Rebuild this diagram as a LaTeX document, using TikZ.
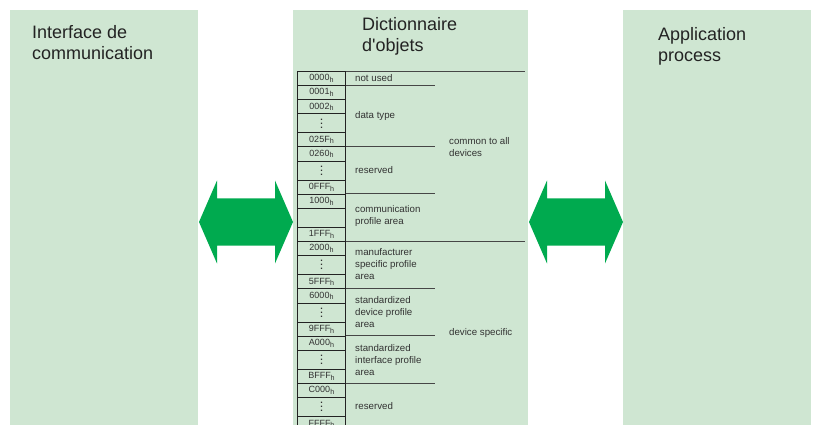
\documentclass[tikz,border=0pt]{standalone}
\usepackage{fontspec}
\setmainfont{Liberation Sans}
\newfontfamily\plainquotes{Liberation Sans}[Ligatures=TeXOff]
\usetikzlibrary{calc}

\definecolor{panelgreen}{RGB}{207,230,210}
\definecolor{arrowgreen}{RGB}{0,170,79}
\definecolor{rulecol}{RGB}{35,35,35}
\definecolor{sepcol}{RGB}{70,70,70}
\definecolor{labelgray}{RGB}{50,50,50}
\definecolor{titlegray}{RGB}{35,35,35}

% three stacked bold dots for elided address ranges
\newcommand\rangedots{\vbox{\baselineskip4pt\lineskiplimit0pt
  \hbox{\bfseries .}\hbox{\bfseries .}\hbox{\bfseries .}}}
% hexadecimal index with its "h" suffix
\newcommand\hexidx[1]{#1\raisebox{-1.6pt}{\fontsize{7.2}{7.2}\selectfont h}}

\begin{document}
\begin{tikzpicture}[x=1pt,y=-1pt,
  panel/.style={fill=panelgreen, draw=none, anchor=north west, inner sep=0,
    minimum width=#1, minimum height=415},
  title/.style={font=\fontsize{18}{21}\selectfont, text=titlegray,
    align=left, inner sep=0},
  cell/.style={draw=rulecol, line width=1pt, minimum width=48,
    minimum height=#1, anchor=north west, inner sep=0,
    font=\fontsize{9}{10}\selectfont, text=labelgray},
  addr/.style={cell=14.1},
  gap/.style={cell=19.1},
  desc/.style={anchor=west, inner sep=0, align=left, text=labelgray,
    font=\fontsize{9.7}{12.2}\selectfont},
  sep/.style={draw=sepcol, line width=0.7pt},
]
\useasboundingbox (0,0) rectangle (817,425);
\clip (0,0) rectangle (817,425);

% three panels
\node[panel=188] (iface) at (10,10) {};
\node[panel=235] (dict)  at (293,10) {};
\node[panel=188] (app)   at (623,10) {};

% panel titles
\node[title, anchor=north west] (tiface) at (32,25) {Interface de\\communication};
\node[title, anchor=north west] (tdict)  at (362,17) {Dictionnaire\\d{\plainquotes'}objets};
\node[title, anchor=north west] (tapp)   at (658,27) {Application\\process};

% double-headed arrows between the panels
\coordinate (al) at (199,222);
\coordinate (ar) at (293,222);
\coordinate (bl) at (529,222);
\coordinate (br) at (623,222);
\foreach \p/\q in {al/ar, bl/br}{
  \fill[arrowgreen] (\p) -- ++(18,-41.5) -- ++(0,18)
    -- ($(\q)+(-18,-23.5)$) -- ++(0,-18) -- (\q) -- ++(-18,41.5)
    -- ++(0,-18) -- ($(\p)+(18,23.5)$) -- ++(0,18) -- cycle;
}

% index column of the object dictionary
\node[addr] (r1)  at (297,71)    {\hexidx{0000}};
\node[addr] (r2)  at (297,85.1)  {\hexidx{0001}};
\node[addr] (r3)  at (297,99.2)  {\hexidx{0002}};
\node[gap]  (r4)  at (297,113.3) {\rangedots};
\node[addr] (r5)  at (297,132.4) {\hexidx{025F}};
\node[addr] (r6)  at (297,146.5) {\hexidx{0260}};
\node[gap]  (r7)  at (297,160.6) {\rangedots};
\node[addr] (r8)  at (297,179.7) {\hexidx{0FFF}};
\node[addr] (r9)  at (297,193.8) {\hexidx{1000}};
\node[gap]  (r10) at (297,207.9) {};
\node[addr] (r11) at (297,227.0) {\hexidx{1FFF}};
\node[addr] (r12) at (297,241.1) {\hexidx{2000}};
\node[gap]  (r13) at (297,255.2) {\rangedots};
\node[addr] (r14) at (297,274.3) {\hexidx{5FFF}};
\node[addr] (r15) at (297,288.4) {\hexidx{6000}};
\node[gap]  (r16) at (297,302.5) {\rangedots};
\node[addr] (r17) at (297,321.6) {\hexidx{9FFF}};
\node[addr] (r18) at (297,335.7) {\hexidx{A000}};
\node[gap]  (r19) at (297,349.8) {\rangedots};
\node[addr] (r20) at (297,368.9) {\hexidx{BFFF}};
\node[addr] (r21) at (297,383.0) {\hexidx{C000}};
\node[gap]  (r22) at (297,397.1) {\rangedots};
\node[addr] (r23) at (297,416.2) {\hexidx{FFFF}};

% range separators: long ones bound the two main groups
\draw[sep] (r1.north east)  -- ++(179,0);
\draw[sep] (r2.north east)  -- ++(89,0);
\draw[sep] (r6.north east)  -- ++(89,0);
\draw[sep] (r9.north east)  -- ++(89,0);
\draw[sep] (r12.north east) -- ++(179,0);
\draw[sep] (r15.north east) -- ++(89,0);
\draw[sep] (r18.north east) -- ++(89,0);
\draw[sep] (r21.north east) -- ++(89,0);

% range descriptions
\node[desc] (d1)  at (355,78)  {not used};
\node[desc] (d2)  at (355,116) {data type};
\node[desc] (d3)  at (355,170) {reserved};
\node[desc] (d4)  at (355,216) {communication\\profile area};
\node[desc] (d5)  at (355,264) {manufacturer\\specific profile\\area};
\node[desc] (d6)  at (355,312) {standardized\\device profile\\area};
\node[desc] (d7)  at (355,360) {standardized\\interface profile\\area};
\node[desc] (d8)  at (355,406) {reserved};
\node[desc] (g1)  at (449,147) {common to all\\devices};
\node[desc] (g2)  at (449,333) {device specific};
\end{tikzpicture}
\end{document}
